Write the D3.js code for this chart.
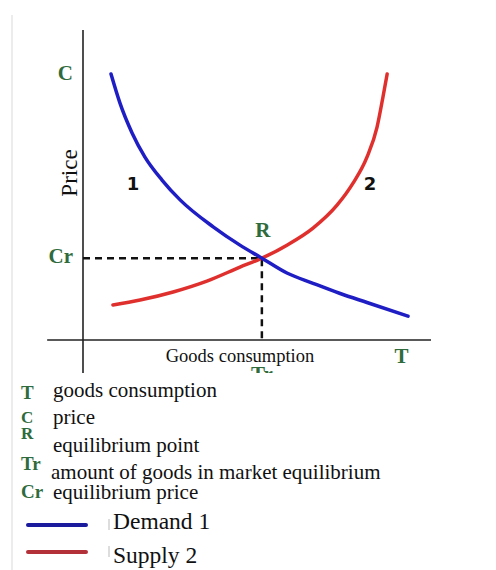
<!DOCTYPE html>
<html>
<head>
<meta charset="utf-8">
<script src="https://cdn.jsdelivr.net/npm/d3@7"></script>
<style>
  body { margin: 0; background: #fff; }
  svg { display: block; }
</style>
</head>
<body>
<svg id="chart"></svg>
<script>
// Chart dimensions
const width = 496;
const height = 570;

// DATA (quantity, price)
const demandQ = [8.05, 10.6, 14.1, 17.8, 22.7, 27.9, 37.4, 45.1, 51.4, 58.6, 66.1, 73.9, 81.6, 93.4];
const demandP = [85.8, 76.5, 66.8, 59.0, 51.6, 45.2, 36.5, 30.6, 26.4, 21.6, 18.3, 15.0, 12.1, 7.7];
const supplyQ = [8.6, 16.4, 25.9, 35.6, 45.1, 51.4, 58.6, 66.1, 73.0, 77.6, 81.6, 84.5, 86.2, 87.4];
const supplyP = [11.3, 12.9, 15.5, 19.0, 23.5, 26.4, 30.6, 36.1, 43.5, 50.6, 59.0, 68.7, 78.4, 85.8];
const eqQ = 51.4;
const eqP = 26.4;
const maxP = 85.8;
const maxQ = 91.5;

const curveLabels = ["1", "2"];
const axisTitleY = "Price";
const axisTitleX = "Goods consumption";
const legendKeys = ["T", "C", "R", "Tr", "Cr"];
const legendTexts = ["goods consumption", "price", "equilibrium point",
  "amount of goods in market equilibrium", "equilibrium price"];
const seriesNames = ["Demand 1", "Supply 2"];

const green = "#2f6b3c";
const serif = "'Liberation Serif', 'Times New Roman', serif";

const svg = d3.select("#chart").attr("width", width).attr("height", height);

// SCALES
const x = d3.scaleLinear().domain([0, 100]).range([83, 431]);
const y = d3.scaleLinear().domain([0, 100]).range([340, 30]);

// faint left border
svg.append("line")
  .attr("x1", 12).attr("x2", 12).attr("y1", 15).attr("y2", height)
  .attr("stroke", "#ececec").attr("stroke-width", 2);

// AXES
svg.append("line")
  .attr("x1", x(0)).attr("x2", x(0)).attr("y1", y(100)).attr("y2", 375)
  .attr("stroke", "#222").attr("stroke-width", 1.6);
svg.append("line")
  .attr("x1", x(-10.3)).attr("x2", x(100)).attr("y1", y(0)).attr("y2", y(0))
  .attr("stroke", "#222").attr("stroke-width", 1.6);

// dashed guides to equilibrium
svg.append("path")
  .attr("d", `M${x(0)},${y(eqP)}H${x(eqQ)}V${y(0)}`)
  .attr("fill", "none")
  .attr("stroke", "#111")
  .attr("stroke-width", 2.5)
  .attr("stroke-dasharray", "7,5");

// CURVES
const line = d3.line()
  .x((d) => x(d[0]))
  .y((d) => y(d[1]))
  .curve(d3.curveMonotoneX);

svg.append("path")
  .datum(supplyQ.map((q, i) => [q, supplyP[i]]))
  .attr("d", line)
  .attr("fill", "none")
  .attr("stroke", "#e0302e")
  .attr("stroke-width", 3.5)
  .attr("stroke-linecap", "round");

svg.append("path")
  .datum(demandQ.map((q, i) => [q, demandP[i]]))
  .attr("d", line)
  .attr("fill", "none")
  .attr("stroke", "#1e1ec4")
  .attr("stroke-width", 3.5)
  .attr("stroke-linecap", "round");

// green tick letters
const gText = (tx, ty, t, anchor = "middle") =>
  svg.append("text")
    .attr("x", tx).attr("y", ty)
    .attr("text-anchor", anchor)
    .attr("font-family", serif)
    .attr("font-weight", "bold")
    .attr("font-size", 21)
    .attr("fill", green)
    .text(t);

gText(x(0) - 10, y(maxP) + 6, "C", "end");
gText(x(0) - 10, y(eqP) + 5, "Cr", "end");
gText(x(eqQ) + 1, y(eqP) - 21, "R");
gText(x(maxQ), y(0) + 23, "T");
gText(x(eqQ), y(0) + 41, "Tr");

// curve numbers
svg.selectAll(".num")
  .data(curveLabels)
  .enter()
  .append("text")
  .attr("class", "num")
  .attr("x", (d, i) => (i === 0 ? x(14.4) : x(82.5)))
  .attr("y", y(48.5))
  .attr("text-anchor", "middle")
  .attr("font-family", "'DejaVu Sans', sans-serif")
  .attr("font-weight", "bold")
  .attr("font-size", 18)
  .attr("fill", "#111")
  .text((d) => d);

// axis titles
svg.append("text")
  .attr("transform", `translate(77, 173) rotate(-90)`)
  .attr("text-anchor", "middle")
  .attr("font-family", serif)
  .attr("font-size", 23)
  .attr("fill", "#111")
  .text(axisTitleY);

svg.append("text")
  .attr("x", 240).attr("y", 362)
  .attr("text-anchor", "middle")
  .attr("font-family", serif)
  .attr("font-size", 18.5)
  .attr("fill", "#111")
  .text(axisTitleX);

// LEGEND (white panel clips the Tr label like the source)
svg.append("rect")
  .attr("x", 14).attr("y", 373).attr("width", 300).attr("height", 197)
  .attr("fill", "#fff");

const keyY = [399, 423, 439, 470, 498];
const textY = [397, 424, 452, 479, 499];

svg.selectAll(".lkey")
  .data(legendKeys)
  .enter()
  .append("text")
  .attr("class", "lkey")
  .attr("x", 21)
  .attr("y", (d, i) => keyY[i])
  .attr("font-family", serif)
  .attr("font-weight", "bold")
  .attr("font-size", (d, i) => (i === 1 || i === 2 ? 17 : 19))
  .attr("fill", green)
  .text((d) => d);

svg.selectAll(".ltext")
  .data(legendTexts)
  .enter()
  .append("text")
  .attr("class", "ltext")
  .attr("x", (d, i) => (i === 3 ? 51 : 53))
  .attr("y", (d, i) => textY[i])
  .attr("font-family", serif)
  .attr("font-size", 21)
  .attr("fill", "#111")
  .text((d) => d);

const seriesColors = ["#1b1b9e", "#b3323a"];
const seriesY = [525, 552];

const items = svg.selectAll(".series")
  .data(seriesNames)
  .enter()
  .append("g")
  .attr("class", "series")
  .attr("transform", (d, i) => `translate(0, ${seriesY[i]})`);

items.append("line")
  .attr("x1", 28).attr("x2", 86)
  .attr("stroke", (d, i) => seriesColors[i])
  .attr("stroke-width", 4)
  .attr("stroke-linecap", "round");

items.append("line")
  .attr("x1", 109).attr("x2", 109).attr("y1", -6).attr("y2", 5)
  .attr("stroke", "#bbb").attr("stroke-width", 1);

items.append("text")
  .attr("x", 113)
  .attr("y", (d, i) => (i === 0 ? 4 : 11))
  .attr("font-family", serif)
  .attr("font-size", 23.5)
  .attr("fill", "#111")
  .text((d) => d);
</script>
</body>
</html>
